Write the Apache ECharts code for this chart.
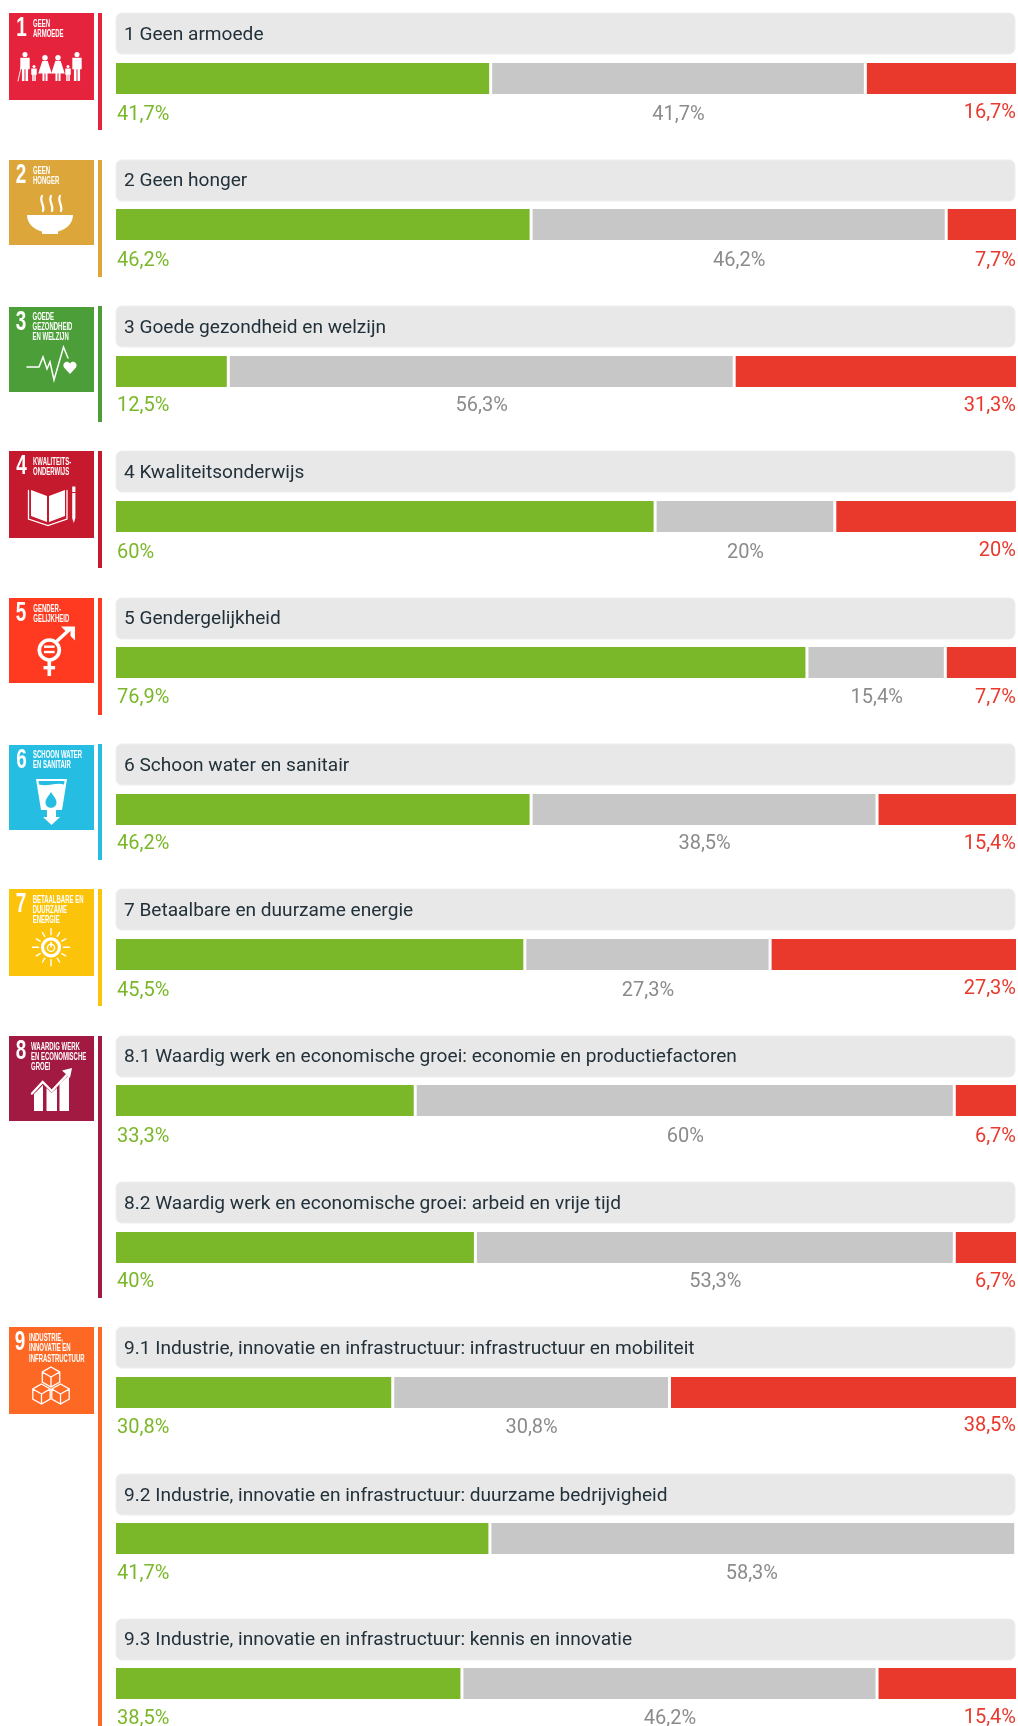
<!DOCTYPE html>
<html>
<head>
<meta charset="utf-8">
<style>html,body{margin:0;padding:0;background:#fff}#c{width:1018px;height:1726px}</style>
<script src="https://cdn.jsdelivr.net/npm/echarts@6/dist/echarts.min.js"></script>
</head>
<body>
<div id="c"></div>
<script>
// ---- data ----
const categories = [
  "1 Geen armoede","2 Geen honger","3 Goede gezondheid en welzijn","4 Kwaliteitsonderwijs",
  "5 Gendergelijkheid","6 Schoon water en sanitair","7 Betaalbare en duurzame energie",
  "8.1 Waardig werk en economische groei: economie en productiefactoren",
  "8.2 Waardig werk en economische groei: arbeid en vrije tijd",
  "9.1 Industrie, innovatie en infrastructuur: infrastructuur en mobiliteit",
  "9.2 Industrie, innovatie en infrastructuur: duurzame bedrijvigheid",
  "9.3 Industrie, innovatie en infrastructuur: kennis en innovatie"
];
const greenValues = [41.7,46.2,12.5,60,76.9,46.2,45.5,33.3,40,30.8,41.7,38.5];
const grayValues  = [41.7,46.2,56.3,20,15.4,38.5,27.3,60,53.3,30.8,58.3,46.2];
const redValues   = [16.7,7.7,31.3,20,7.7,15.4,27.3,6.7,6.7,38.5,null,15.4];
const iconTitles = [
  ["GEEN","ARMOEDE"],["GEEN","HONGER"],["GOEDE","GEZONDHEID","EN WELZIJN"],["KWALITEITS-","ONDERWIJS"],
  ["GENDER-","GELIJKHEID"],["SCHOON WATER","EN SANITAIR"],["BETAALBARE EN","DUURZAME","ENERGIE"],
  ["WAARDIG WERK","EN ECONOMISCHE","GROEI"],["INDUSTRIE,","INNOVATIE EN","INFRASTRUCTUUR"]
];
const goalColors = ["#e5233d","#dda63a","#4c9f38","#c5192d","#ff3a21","#26bde2","#fcc30b","#a21942","#fd6925"];

// ---- layout ----
const pillTops = [13,160,306,451,598,744,889,1036,1182,1327,1474,1619];
const barTops  = [63,209,356,501,647,794,939,1085,1232,1377,1523,1668];
const titleDy  = [22,21,22,22,21,22,22,21,22,22,22,21];
const leftLabelDy  = [21,21,19,21,20,19,21,21,19,20,20,20];
const rightLabelDy = [19,21,19,19,20,19,19,21,19,18,20,19];
const bands = [[13,130],[160,277],[306,422],[451,568],[598,715],[744,860],[889,1006],[1036,1298],[1327,1726]];
const iconBoxes = [[13,87],[160,85],[307,85],[451,87],[598,85],[745,85],[889,87],[1036,85],[1327,87]];
const iconText = [
  {x:24,y:[11,21]},{x:24,y:[11,21]},{x:23.5,y:[10.5,20.5,30.5]},{x:24,y:[11,21]},{x:24.3,y:[10.7,21]},
  {x:24,y:[10,20]},{x:23.7,y:[11.3,21,31]},{x:22,y:[11.3,21,31]},{x:20,y:[11.3,21.3,31.7]}
];
const numX = [12.5,12,12,12.5,12,12.5,12,12,11];
const GAP = 3;
const FONT = 'Roboto, "Noto Sans", sans-serif';
const GREEN='#7ab729', GRAY='#c7c7c7', RED='#e8392c';

const fmt = v => String(v).replace('.',',') + '%';

// ---- chart rows ----
const grids=[],xAxes=[],yAxes=[],series=[];
categories.forEach((cat,i)=>{
  grids.push({left:117.5,top:barTops[i],width:898.5,height:31,containLabel:false});
  xAxes.push({type:'value',gridIndex:i,min:0,max:redValues[i]==null?100.2:100,show:false});
  yAxes.push({type:'category',gridIndex:i,data:[cat],show:false});
  const mk=(name,values,color,pos,align,dx,dy,shadow,textColor)=>({
    type:'bar',name,stack:'s'+i,xAxisIndex:i,yAxisIndex:i,barWidth:'100%',silent:true,animation:false,
    data:[values[i]],
    itemStyle:Object.assign({color},shadow),
    label:{show:values[i]!=null,position:pos,align,verticalAlign:'middle',offset:[dx,dy],
      color:textColor,fontFamily:FONT,fontSize:20,fontWeight:400,formatter:p=>fmt(p.value)}
  });
  series.push(mk('Groen',greenValues,GREEN,[0,'100%'],'left',-0.5,leftLabelDy[i],{shadowColor:GREEN,shadowBlur:0,shadowOffsetX:-1.5},'#7ab729'));
  series.push(mk('Grijs',grayValues,GRAY,['50%','100%'],'center',-1,leftLabelDy[i],{shadowColor:'#fff',shadowBlur:0,shadowOffsetX:-GAP},'#8b8b8b'));
  series.push(mk('Rood',redValues,RED,['100%','100%'],'right',0,rightLabelDy[i],{shadowColor:'#fff',shadowBlur:0,shadowOffsetX:-GAP},'#e8392c'));
});

// ---- pills, bands, icons ----
const W='#fff';
let shapeCount=0;
const pathFree=(d,fill,stroke,lw)=>{
  const name='picto'+(shapeCount++);
  echarts.graphic.registerShape(name,echarts.graphic.extendPath(d,{}));
  return {type:name,shape:{},style:{fill:fill||'none',stroke:stroke||null,lineWidth:lw||0,lineCap:'round'}};
};
const rect=(x,y,w,h,fill)=>({type:'rect',shape:{x,y,width:w,height:h},style:{fill:fill||W}});
const circ=(cx,cy,r,fill,stroke,lw)=>({type:'circle',shape:{cx,cy,r},style:{fill:fill||'none',stroke:stroke||null,lineWidth:lw||0}});

function person(cx,top,h,w,dress){
  const r=w*0.3, o=[circ(cx,top+r,r,W)];
  const t=top+2*r+0.6, b=top+h;
  if(dress){
    o.push(pathFree(`M${cx-w*0.3} ${t}H${cx+w*0.3}L${cx+w*0.75} ${t+(b-t)*0.62}H${cx+w*0.28}V${b}H${cx+w*0.06}V${t+(b-t)*0.62}H${cx-w*0.06}V${b}H${cx-w*0.28}V${t+(b-t)*0.62}H${cx-w*0.75}Z`,W));
  }else{
    o.push(pathFree(`M${cx-w*0.55} ${t}H${cx+w*0.55}V${t+(b-t)*0.5}H${cx+w*0.36}V${b}H${cx+w*0.06}V${t+(b-t)*0.5}H${cx-w*0.06}V${b}H${cx-w*0.36}V${t+(b-t)*0.5}H${cx-w*0.55}Z`,W));
  }
  return o;
}
function cube(cx,cy,r,col){
  const h=r*0.87,q=r/2;
  return [pathFree(`M${cx} ${cy-r}L${cx+h} ${cy-q}V${cy+q}L${cx} ${cy+r}L${cx-h} ${cy+q}V${cy-q}ZM${cx} ${cy}V${cy+r}M${cx} ${cy}L${cx+h} ${cy-q}M${cx} ${cy}L${cx-h} ${cy-q}`,col,W,1.3)];
}
const sunRays=[];
for(let a=0;a<12;a++){
  const t=a*Math.PI/6,long=a%3===0;
  const r1=12.5,r2=long?18.5:17;
  sunRays.push(pathFree(`M${42+r1*Math.sin(t)} ${58.3-r1*Math.cos(t)}L${42+r2*Math.sin(t)} ${58.3-r2*Math.cos(t)}`,null,W,1.4));
}
const pictos=[
  [].concat(person(16,39,29,8.5,false),person(25,52,16,5,false),person(36,42,26,9,true),person(49,42,26,9,true),person(59,52,16,5,false),person(68,39,29,8.5,false),
    [pathFree('M13 50L9 68',null,W,0.9)]),
  [pathFree('M18 55H64C64 65 55 70 49 71.5V74H33V71.5C27 70 18 65 18 55Z',W),
    pathFree('M33 36C30 41 36 45 34 51',null,W,2.2),pathFree('M42 36C39 41 45 45 43 51',null,W,2.2),pathFree('M51 36C48 41 54 45 52 51',null,W,2.2)],
  [pathFree('M18 60H30L34 50L38 62L41 55L45 73L54.5 40L59 51',null,W,1.5),
    pathFree('M61 67L55 60.5C52.5 56 58.5 52.5 61 56.5C63.5 52.5 69.5 56 67 60.5Z',W)],
  [pathFree('M22 39L38 45V71L22 65Z',W),pathFree('M56 39L40 45V71L56 65Z',W),
    pathFree('M19.5 39.5V68L39 74.5L58 68V39.5',null,W,1.3),
    pathFree('M63.2 42V67L64.8 72L66.4 67V42Z',W),rect(63.2,35.5,3.2,5.5)],
  [circ(40.3,52,10,null,W,3.6),rect(35,47.5,10.6,2.4),rect(35,52.8,10.6,2.4),
    rect(38.5,62,3.6,16),rect(34.5,68,11.6,3.4),
    pathFree('M47 44L60 32',null,W,3.4),pathFree('M52 28.5H66V42.5L61.5 38V33H56.5Z',W)],
  [pathFree('M27 34H58L53 65H47V72H51L42.5 80L34 72H38V65H32Z',W),
    pathFree('M29.5 36H55.5L55 39.5C48 37 38 42 30 39.5Z',goalColors[5]),
    pathFree('M42 47C39 52 36.5 54 36.5 57.5C36.5 64.5 47.5 64.5 47.5 57.5C47.5 54 45 52 42 47Z',goalColors[5])],
  sunRays.concat([circ(42,58.3,8.5,null,W,3.2),rect(41.2,53,1.6,5.5),circ(42,58.8,3.6,null,W,1.4)]),
  [pathFree('M25 58L34 49V75H25Z',W),pathFree('M37.5 52L42.5 57L48 52V75H37.5Z',W),pathFree('M50.5 48L60 39V75H50.5Z',W),
    pathFree('M23 57.5L33.7 46L42.7 55L60 36.5',null,W,2.4),pathFree('M53 34.5L63 32L61 42Z',W)],
  [].concat(cube(42,50,10,null),cube(32.5,67,10,null),cube(51.5,67,10,null))
];

const graphics=[];
categories.forEach((cat,i)=>{
  graphics.push({type:'rect',shape:{x:116,y:pillTops[i],width:899,height:41,r:6},style:{fill:'#e8e8e8',stroke:'#eeeeee',lineWidth:1},silent:true});
  graphics.push({type:'text',x:124,y:pillTops[i]+titleDy[i],silent:true,style:{text:cat,fill:'#22313a',font:'400 19.1px '+FONT,verticalAlign:'middle'}});
});
bands.forEach((b,i)=>graphics.push({type:'rect',shape:{x:98,y:b[0],width:4,height:b[1]-b[0]},style:{fill:goalColors[i]},silent:true}));
iconBoxes.forEach((b,i)=>{
  const kids=[{type:'rect',shape:{x:0,y:0,width:85,height:b[1]},style:{fill:goalColors[i]}},
    {type:'text',x:numX[i],y:16,scaleX:0.7,style:{text:String(i+1),fill:W,font:'bold 27px "Liberation Sans Narrow", "Liberation Sans"',align:'center',verticalAlign:'middle'}}];
  iconTitles[i].forEach((t,k)=>kids.push({type:'text',x:iconText[i].x,y:iconText[i].y[k],scaleX:0.57,
    style:{text:t,fill:W,font:'bold 10.5px "Liberation Sans Narrow", "Liberation Sans"',verticalAlign:'middle'}}));
  pictos[i].forEach(p=>kids.push(p));
  graphics.push({type:'group',x:9,y:b[0],silent:true,children:kids});
});

const chart=echarts.init(document.getElementById('c'),null,{renderer:'canvas'});
chart.setOption({animation:false,backgroundColor:'#fff',grid:grids,xAxis:xAxes,yAxis:yAxes,series,graphic:{elements:graphics},tooltip:{show:false},legend:{show:false}});
</script>
</body>
</html>
